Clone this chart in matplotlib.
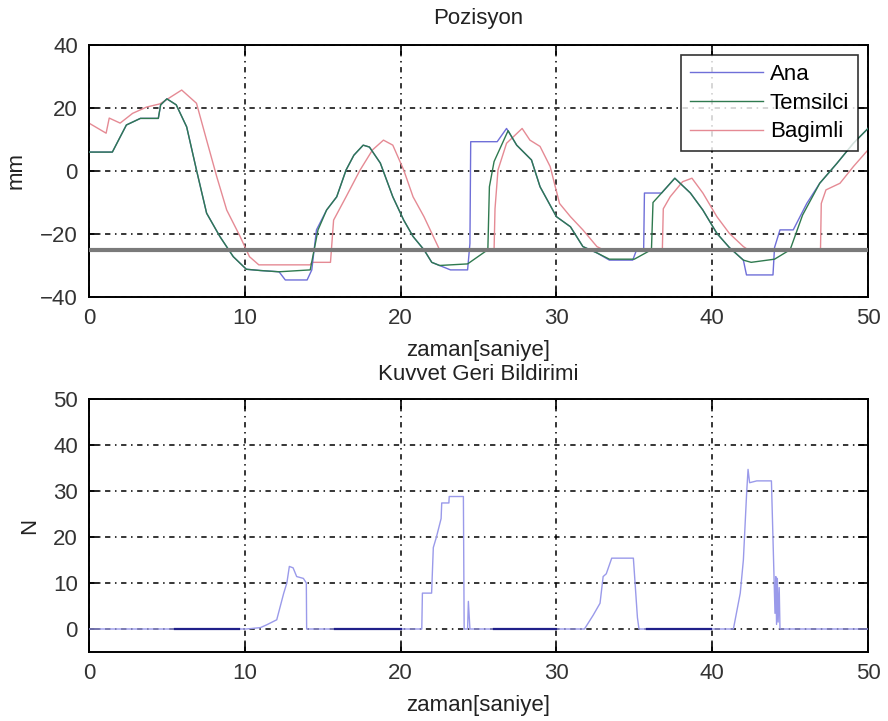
import matplotlib
matplotlib.use("Agg")
import matplotlib.pyplot as plt
import numpy as np

plt.rcParams['font.family'] = ['Liberation Sans', 'DejaVu Sans']

# --- Pozisyon (mm) ---
t_ana = [0, 1.5, 2.4, 3.3, 4.45, 4.6, 5.0, 5.6, 6.27, 6.9, 7.55, 8.4, 9.26, 10.1, 11.0, 12.2, 12.6,
         14.0, 14.3, 14.6, 15.25, 15.9, 16.5, 17.0, 17.6, 18.0, 18.7, 19.5, 20.2, 20.8, 21.5, 22.0,
         22.5, 23.2, 24.3, 24.45, 24.5, 25.2, 26.2, 26.8, 27.45, 28.4, 28.95, 30.0, 30.9, 31.7, 32.6,
         33.4, 34.9, 35.15, 35.6, 35.65, 36.75, 37.6, 38.6, 39.4, 40.3, 41.1, 42.0, 42.2, 43.9, 44.0,
         44.35, 45.2, 46.07, 46.9, 48.0, 49.06, 50]
y_ana = [6, 6, 14.6, 16.7, 16.7, 21, 22.9, 21, 14, 0.3, -13.4, -20.8, -27.2, -31.2, -31.6, -32, -34.6,
         -34.6, -31.4, -18.7, -12.4, -8.2, 0.3, 5, 8.2, 7.6, 2.5, -8.2, -15.6, -20.8, -25, -29,
         -30, -31.4, -31.4, -23, 9.3, 9.3, 9.3, 13.5, 8.2, 3.5, -5, -14.5, -17.7, -24, -26,
         -28.3, -28.3, -25, -25, -7, -7, -2.3, -7, -12.4, -19.8, -24.3, -28.3, -33, -33, -24.3,
         -18.7, -18.7, -10.3, -3.9, 2.4, 8.8, 13.5]

t_temsilci = [0, 1.5, 2.4, 3.3, 4.45, 4.6, 5.0, 5.6, 6.27, 6.9, 7.55, 8.4, 9.26, 10.1, 11.0, 12.2,
              14.2, 14.7, 15.25, 15.9, 16.5, 17.0, 17.6, 18.0, 18.7, 19.5, 20.2, 20.8, 21.5, 22.0,
              22.5, 24.3, 25.6, 25.7, 26.0, 26.9, 27.45, 28.4, 28.95, 30.0, 30.9, 31.7, 32.6, 33.4,
              35.0, 36.1, 36.2, 36.75, 37.6, 38.6, 39.4, 40.3, 41.1, 42.0, 42.5, 44.0, 45.0, 45.8,
              46.9, 48.0, 49.06, 50]
y_temsilci = [6, 6, 14.6, 16.7, 16.7, 21, 22.9, 21, 14, 0.3, -13.4, -20.8, -27.2, -31.2, -31.6, -32,
              -31.4, -18.7, -12.4, -8.2, 0.3, 5, 8.2, 7.6, 2.5, -8.2, -15.6, -20.8, -25, -29,
              -30, -29.5, -25, -5, 3, 12.8, 8.2, 3.5, -5, -14.5, -17.7, -24, -26, -28,
              -28, -25, -10, -7, -2.3, -7, -12.4, -19.8, -24.3, -28.3, -29, -28, -25, -14,
              -3.9, 2.4, 8.8, 13.5]

t_bagimli = [0, 1.1, 1.3, 2.0, 2.8, 3.7, 4.55, 5.95, 6.9, 7.55, 8.2, 8.84, 9.7, 10.3, 10.9, 14.2,
             14.3, 15.5, 15.7, 16.5, 17.4, 18.2, 18.9, 19.5, 20.2, 20.8, 21.5, 22.1, 22.5, 26.0,
             26.06, 26.25, 26.8, 27.8, 28.3, 28.95, 29.6, 30.2, 30.9, 31.7, 32.6, 33.0, 36.8,
             36.86, 37.3, 38.1, 38.7, 39.4, 40.3, 41.1, 42.0, 42.3, 46.95, 47.0, 47.3, 48.2,
             49.06, 50]
y_bagimli = [15.2, 12, 16.8, 15.2, 18.3, 20.3, 21.3, 25.7, 21.5, 9.8, -1.8, -12.4, -20.8, -27.2,
             -29.8, -29.8, -29, -29, -15.6, -8.2, 0.3, 6.7, 9.8, 8.2, 0.3, -8.2, -14.5, -20.8,
             -25, -25, -12, 0.3, 8.8, 13.5, 9.8, 7.8, 1.4, -10.3, -14.5, -18.7, -24, -25, -25,
             -12, -8.2, -3.4, -2.3, -7, -14.5, -19.8, -24, -25, -25, -10.3, -6, -3.9, 1.4, 6.7]

duvar = -25  # wall level

# --- Kuvvet Geri Bildirimi (N) ---
t_kuvvet = [0, 10.1, 11.0, 11.4, 12.05, 12.5, 12.7, 12.86, 13.1, 13.33, 13.76, 13.95, 13.97, 21.36,
            21.4, 21.99, 22.1, 22.3, 22.6, 22.64, 23.1, 23.12, 24.03, 24.08, 24.3, 24.35, 24.45,
            31.8, 32.36, 32.8, 33.0, 33.2, 33.55, 34.94, 35.2, 35.3, 41.36, 41.8, 42.0, 42.21,
            42.3, 42.4, 42.86, 43.8, 44.03, 44.08, 44.13, 44.18, 44.23, 44.3, 44.35, 50]
y_kuvvet = [0, 0, 0.3, 0.9, 2, 7.8, 10, 13.6, 13.3, 11.4, 11, 10, 0, 0,
            7.8, 7.8, 17.7, 20, 24, 27.4, 27.4, 28.8, 28.8, 0, 0, 6, 0,
            0, 3, 5.6, 11.4, 12, 15.4, 15.4, 2.5, 0, 0, 7.8, 15, 29.6,
            34.7, 31.8, 32.2, 32.2, 3.4, 11.4, 1, 11, 1.5, 9, 0, 0]

# segments where the force is exactly zero (drawn darker)
sifir_bas = [5.5, 15.8, 26.0, 35.8]
sifir_son = [9.6, 20.0, 30.0, 39.9]

fig = plt.figure(figsize=(8.88, 7.21), dpi=100)
ax1 = fig.add_axes([0.1002, 0.5881, 0.8773, 0.3495])
ax2 = fig.add_axes([0.1002, 0.0957, 0.8773, 0.3509])

grid_kw = dict(color='black', linewidth=1.1, linestyle=(0, (3.5, 3, 1, 3)))
tick_color = '#333333'

ax1.plot(t_ana, y_ana, color='#6f6fd8', lw=1.0, label='Ana', zorder=3)
ax1.plot(t_temsilci, y_temsilci, color='#2f7a4f', lw=1.0, label='Temsilci', zorder=4)
ax1.plot(t_bagimli, y_bagimli, color='#e58a94', lw=1.0, label='Bagimli', zorder=2)
ax1.axhline(duvar, color='#7a7a7a', lw=3, zorder=5)
ax1.set_xlim(0, 50)
ax1.set_ylim(-40, 40)
ax1.set_xticks(np.arange(0, 51, 10))
ax1.set_yticks(np.arange(-40, 41, 20))
ax1.set_title('Pozisyon', fontsize=16, pad=15, color='#222222')
ax1.set_xlabel('zaman[saniye]', fontsize=16, labelpad=8, color='#222222')
ax1.set_ylabel('mm', fontsize=16, color='#222222')
ax1.yaxis.set_label_coords(-0.0796, 0.5)
leg = ax1.legend(loc='upper right', fontsize=16, frameon=True, fancybox=False,
                 edgecolor='black', handlelength=3.3, handletextpad=0.3,
                 labelspacing=0.35, borderpad=0.4, borderaxespad=0.45)
leg.get_frame().set_linewidth(1.2)

for tb, ts in zip(sifir_bas, sifir_son):
    ax2.plot([tb, ts], [0, 0], color='#20208a', lw=1.6, zorder=4)
ax2.plot(t_kuvvet, y_kuvvet, color='#9a9aea', lw=1.0, zorder=3)
ax2.set_xlim(0, 50)
ax2.set_ylim(-5, 50)
ax2.set_xticks(np.arange(0, 51, 10))
ax2.set_yticks(np.arange(0, 51, 10))
ax2.set_title('Kuvvet Geri Bildirimi', fontsize=16, pad=14, color='#222222')
ax2.set_xlabel('zaman[saniye]', fontsize=16, labelpad=8, color='#222222')
ax2.set_ylabel('N', fontsize=16, color='#222222')
ax2.yaxis.set_label_coords(-0.063, 0.5)

for ax in (ax1, ax2):
    ax.grid(True, **grid_kw)
    ax.set_axisbelow(True)
    ax.tick_params(direction='in', length=7, width=1.2, top=True, right=True,
                   labelsize=16, labelcolor=tick_color, pad=8)
    for s in ax.spines.values():
        s.set_linewidth(1.4)

fig.savefig('out.png', dpi=100)
